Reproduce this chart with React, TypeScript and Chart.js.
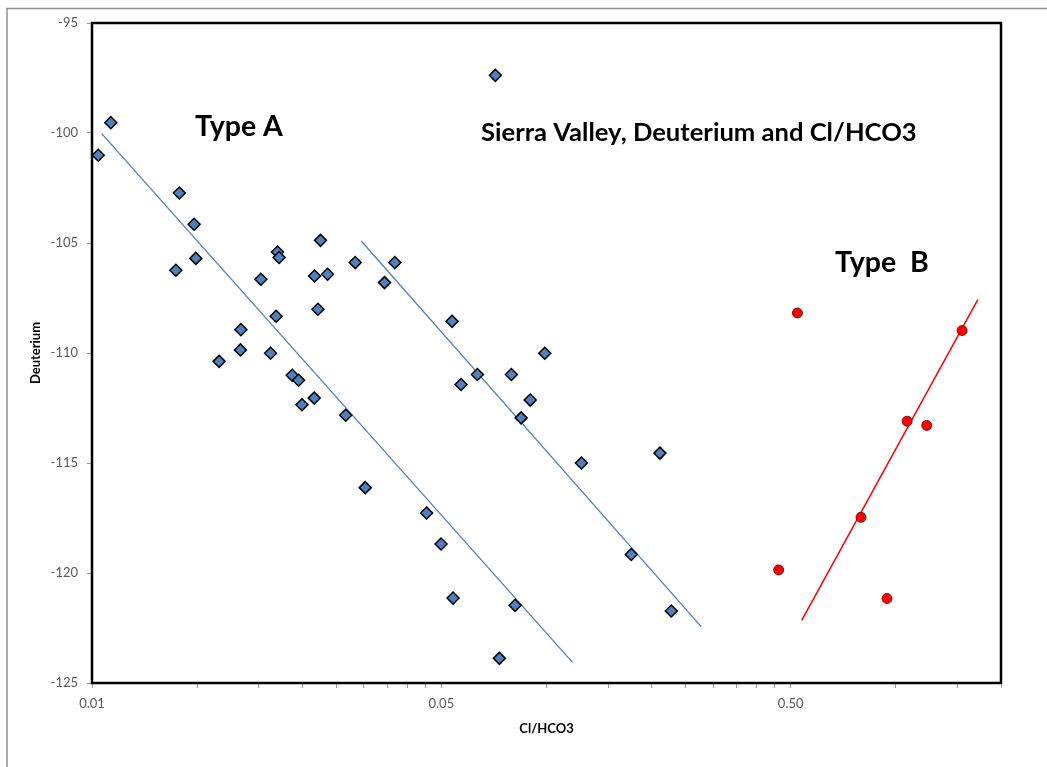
import React, { useEffect, useRef } from "react";
import { Chart, registerables } from "chart.js";

Chart.register(...registerables);

// Type A samples (Cl/HCO3, Deuterium)
const typeAX = [
  0.00521, 0.00566, 0.00889, 0.00869, 0.0098, 0.00991, 0.01156, 0.01334, 0.0133, 0.01522,
  0.01622, 0.01698, 0.01717, 0.01683, 0.01871, 0.01951, 0.01995, 0.02163, 0.02168, 0.02217,
  0.02255, 0.02362, 0.02662, 0.02835, 0.03028, 0.03438, 0.03679, 0.04538, 0.0499, 0.05366,
  0.05401, 0.05693, 0.06342, 0.0714, 0.0733, 0.07936, 0.08131, 0.0846, 0.0898, 0.09886,
  0.1259, 0.1749, 0.2112, 0.2276,
];
const typeAY = [
  -101.01, -99.53, -102.73, -106.24, -104.15, -105.7, -110.38, -108.94, -109.86, -106.65,
  -110.01, -105.41, -105.66, -108.33, -111.01, -111.24, -112.35, -112.05, -106.5, -108.01,
  -104.88, -106.42, -112.83, -105.89, -116.12, -106.8, -105.89, -117.27, -118.68, -108.56,
  -121.14, -111.43, -110.98, -97.38, -123.88, -110.98, -121.47, -112.95, -112.14, -110.01,
  -115.0, -119.16, -114.55, -121.73,
];

// Type B samples
const typeBX = [0.5227, 1.548, 1.077, 1.226, 0.795, 0.462, 0.9435];
const typeBY = [-108.18, -108.98, -113.1, -113.29, -117.47, -119.86, -121.16];

// Trend lines (end points)
const trendA1X = [0.00533, 0.1187];
const trendA1Y = [-100.03, -124.06];
const trendA2X = [0.02949, 0.2772];
const trendA2Y = [-104.91, -122.44];
const trendBX = [0.5377, 1.717];
const trendBY = [-122.15, -107.57];

// Axis ticks
const xTickValues = [
  0.005, 0.01, 0.015, 0.02, 0.025, 0.03, 0.035, 0.04, 0.045,
  0.05, 0.1, 0.15, 0.2, 0.25, 0.3, 0.35, 0.4, 0.45,
  0.5, 1.0, 1.5, 2.0,
];
const xTickLabels = [
  "0.01", "", "", "", "", "", "", "", "",
  "0.05", "", "", "", "", "", "", "", "",
  "0.50", "", "", "",
];
const yMin = -125;
const yMax = -95;
const yStep = 5;

const FONT = "Lato, 'Open Sans', sans-serif";

const pts = (xs: number[], ys: number[]) => xs.map((x, i) => ({ x, y: ys[i] }));

export default function App() {
  const ref = useRef<HTMLCanvasElement | null>(null);

  useEffect(() => {
    if (!ref.current) return;

    const framePlugin = {
      id: "frame",
      beforeDraw(chart: any) {
        const { ctx, width, height } = chart;
        ctx.save();
        ctx.fillStyle = "#ffffff";
        ctx.fillRect(0, 0, width, height);
        ctx.strokeStyle = "#8e8e8e";
        ctx.lineWidth = 1.5;
        ctx.beginPath();
        ctx.moveTo(7, height);
        ctx.lineTo(7, 8.5);
        ctx.lineTo(width, 8.5);
        ctx.stroke();
        ctx.restore();
      },
      beforeDatasetsDraw(chart: any) {
        const { ctx, chartArea: a } = chart;
        ctx.save();
        ctx.strokeStyle = "#000000";
        ctx.lineWidth = 2.5;
        ctx.strokeRect(a.left, a.top, a.right - a.left, a.bottom - a.top);
        ctx.restore();
      },
      afterDraw(chart: any) {
        const { ctx, chartArea: a } = chart;
        ctx.save();
        ctx.fillStyle = "#000000";
        ctx.textBaseline = "middle";
        ctx.textAlign = "left";
        ctx.font = `bold 28.5px ${FONT}`;
        ctx.fillText("Type A", a.left + 103, 127);
        ctx.fillText("Type  B", a.left + 743, 263);
        ctx.font = `bold 25.6px ${FONT}`;
        ctx.fillText("Sierra Valley, Deuterium and Cl/HCO3", a.left + 389, 133);
        ctx.restore();
      },
    };

    const chart = new Chart(ref.current, {
      type: "scatter",
      data: {
        datasets: [
          {
            label: "Type A",
            data: pts(typeAX, typeAY),
            pointStyle: "rectRot",
            pointRadius: 6,
            backgroundColor: "#4F81BD",
            borderColor: "#000000",
            borderWidth: 1.5,
          },
          {
            label: "Type B",
            data: pts(typeBX, typeBY),
            pointStyle: "circle",
            pointRadius: 5,
            backgroundColor: "#FF0000",
            borderColor: "#5a0000",
            borderWidth: 0.8,
          },
          {
            label: "Trend A1",
            data: pts(trendA1X, trendA1Y),
            showLine: true,
            pointRadius: 0,
            borderColor: "#4F81BD",
            borderWidth: 1.3,
          },
          {
            label: "Trend A2",
            data: pts(trendA2X, trendA2Y),
            showLine: true,
            pointRadius: 0,
            borderColor: "#4F81BD",
            borderWidth: 1.3,
          },
          {
            label: "Trend B",
            data: pts(trendBX, trendBY),
            showLine: true,
            pointRadius: 0,
            borderColor: "#FF0000",
            borderWidth: 1.5,
          },
        ],
      },
      options: {
        responsive: false,
        animation: false,
        devicePixelRatio: 1,
        layout: { padding: { left: 0, right: 46, top: 23, bottom: 0 } },
        plugins: {
          legend: { display: false },
          tooltip: { enabled: false },
          title: { display: false },
        },
        scales: {
          x: {
            type: "logarithmic",
            min: 0.005,
            max: 2,
            afterBuildTicks: (s: any) => {
              s.ticks = xTickValues.map((v) => ({ value: v }));
            },
            afterFit: (s: any) => {
              s.height = 84;
            },
            ticks: {
              autoSkip: false,
              maxRotation: 0,
              minRotation: 0,
              padding: 8,
              color: "#595959",
              font: { family: FONT, size: 13 },
              callback: (_v: any, i: number) => xTickLabels[i],
            },
            grid: {
              display: true,
              drawOnChartArea: false,
              drawTicks: true,
              tickLength: 5,
              color: "#9a9a9a",
            },
            border: { display: false },
            title: {
              display: true,
              text: "Cl/HCO3",
              color: "#000000",
              font: { family: FONT, size: 13, weight: "bold" },
              padding: { top: 0, bottom: 30 },
            },
          },
          y: {
            type: "linear",
            min: yMin,
            max: yMax,
            afterFit: (s: any) => {
              s.width = 92;
            },
            ticks: {
              stepSize: yStep,
              padding: 9,
              color: "#595959",
              font: { family: FONT, size: 13 },
            },
            grid: {
              display: true,
              drawOnChartArea: false,
              drawTicks: true,
              tickLength: 5,
              color: "#9a9a9a",
            },
            border: { display: false },
            title: {
              display: true,
              text: "Deuterium",
              color: "#000000",
              font: { family: FONT, size: 13, weight: "bold" },
              padding: { top: 28, bottom: 0 },
            },
          },
        },
      },
      plugins: [framePlugin],
    } as any);

    return () => chart.destroy();
  }, []);

  return (
    <div style={{ position: "absolute", left: 0, top: 0, width: 1047, height: 767 }}>
      <canvas ref={ref} width={1047} height={767} style={{ display: "block" }} />
    </div>
  );
}
